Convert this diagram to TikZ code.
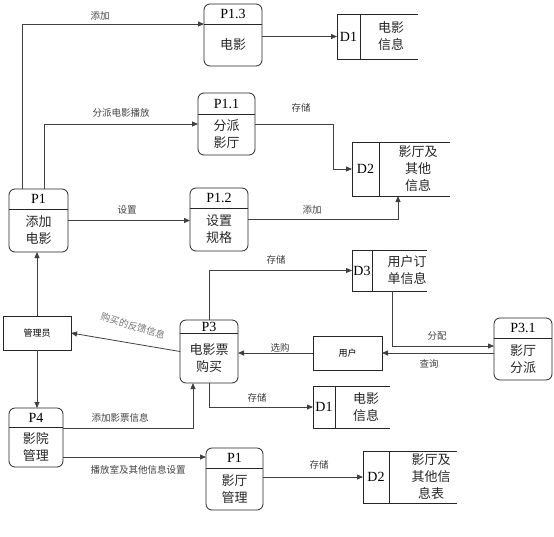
\documentclass[tikz,border=0pt]{standalone}
\usepackage{fontspec}
\setmainfont{Liberation Serif}
\newfontfamily\cjk{Noto Sans CJK SC}
\usetikzlibrary{arrows.meta,calc}
\tikzset{
  boxline/.style={draw=black!85, line width=0.8pt},
  box/.style={boxline, rounded corners=6pt, inner sep=0pt, outer sep=0pt, anchor=north west},
  ent/.style={boxline, inner sep=0pt, outer sep=0pt, anchor=north west, font=\cjk\fontsize{9}{10}\selectfont},
  flow/.style={draw=black!75, line width=0.8pt, -{Triangle[length=6pt,width=5pt]}},
  lbl/.style={font=\cjk\fontsize{9.5}{10}\selectfont, text=black!75, inner sep=1pt},
  pid/.style={font=\fontsize{14}{16}\selectfont, inner sep=0pt},
  ptxt/.style={font=\cjk\fontsize{13}{17}\selectfont, align=center, inner sep=0pt, text=black!85},
}
\newcommand\procbox[8]{%
  \pgfmathsetmacro\pbw{#4-#2}\pgfmathsetmacro\pbh{#5-#3}%
  \pgfmathsetmacro\pbcx{(#2+#4)/2}%
  \pgfmathsetmacro\pbiy{(#3+#6)/2}\pgfmathsetmacro\pbty{(#6+#5)/2}%
  \node[box, minimum width=\pbw pt, minimum height=\pbh pt] (#1) at (#2,#3) {};
  \draw[boxline] (#2,#6) -- (#4,#6);
  \node[pid] at (\pbcx,\pbiy) {#7};
  \node[ptxt] at (\pbcx,\pbty) {#8};
}
\newcommand\storebox[9]{%
  \pgfmathsetmacro\sbw{#4-#2}\pgfmathsetmacro\sbh{#5-#3}%
  \pgfmathsetmacro\sbcy{(#3+#5)/2}\pgfmathsetmacro\sbix{(#2+#6)/2}%
  \node[inner sep=0pt, outer sep=0pt, minimum width=\sbw pt, minimum height=\sbh pt, anchor=north west] (#1) at (#2,#3) {};
  \draw[boxline] (#1.north east) -- (#1.north west) -- (#1.south west) -- (#1.south east);
  \draw[boxline] (#6,#3) -- (#6,#5);
  \node[pid] at (\sbix,\sbcy) {#7};
  \node[ptxt] at (#9,\sbcy) {#8};
}
\begin{document}
\begin{tikzpicture}[x=1pt,y=-1pt]
\useasboundingbox (0,0) rectangle (554,536);
% processes
\procbox{p13}{204}{4}{262}{66}{24}{P1.3}{电影}
\procbox{p11}{198}{93}{255}{155}{114}{P1.1}{分派\\影厅}
\procbox{p1}{9}{189}{68}{252}{209}{P1}{添加\\电影}
\procbox{p12}{190}{188}{248}{251}{208}{P1.2}{设置\\规格}
\procbox{p3}{180}{320}{238}{383}{333}{P3}{电影票\\购买}
\procbox{p31}{494}{318}{552}{380}{338}{P3.1}{影厅\\分派}
\procbox{p4}{9}{408}{63}{467}{427}{P4}{影院\\管理}
\procbox{p1b}{206}{448}{263}{510}{468}{P1}{影厅\\管理}
% stores
\storebox{d1}{337}{14}{418}{59}{360}{D1}{电影\\信息}{391}
\storebox{d2}{352}{142}{450}{196}{379}{D2}{影厅及\\其他\\信息}{418}
\storebox{d3}{352}{250}{427}{291}{372}{D3}{用户订\\单信息}{407}
\storebox{d1b}{313}{386}{390}{428}{335}{D1}{电影\\信息}{366}
\storebox{d2b}{363}{451}{457}{503}{389}{D2}{影厅及\\其他信\\息表}{431}
% entities
\node[ent, minimum width=68pt, minimum height=34pt] (adm) at (3,316) {管理员};
\node[ent, minimum width=69pt, minimum height=34pt] (user) at (313,336) {用户};
% flows
\draw[flow] (p1.north -| 22,0) |- (p13.west |- 0,24);
\draw[flow] (p1.north -| 44,0) |- (p11.west);
\draw[flow] (p1.east) -- (p12.west |- p1.east);
\draw[flow] (p13.east |- d1.west) -- (d1.west);
\draw[flow] (p11.east) -| (333,0 |- d2.west) -- (d2.west);
\draw[flow] (p12.east) -| (d2.south -| 398,0);
\draw[flow] (adm.north) -- (adm.north |- p1.south);
\draw[flow] (p3.west) -- (adm.east);
\draw[flow] (adm.south) -- (adm.south |- p4.north);
\draw[flow] (p3.north) |- (d3.west);
\draw[flow] (d3.south -| 392,0) |- (p31.west |- 0,346);
\draw[flow] (p31.west |- user.east) -- (user.east);
\draw[flow] (user.west) -- (p3.east |- user.west);
\draw[flow] (p3.south) |- (d1b.west);
\draw[flow] (p4.east |- 0,428) -| (p3.south -| 193,0);
\draw[flow] (p4.east |- 0,457) -- (p1b.west |- 0,457);
\draw[flow] (p1b.east |- d2b.west) -- (d2b.west);
% labels
\node[lbl] at (100,16) {添加};
\node[lbl] at (121,113) {分派电影播放};
\node[lbl] at (127,210) {设置};
\node[lbl] at (301,108) {存储};
\node[lbl] at (312,210) {添加};
\node[lbl] at (276,260) {存储};
\node[lbl] at (437,336) {分配};
\node[lbl] at (429,364) {查询};
\node[lbl] at (280,348) {选购};
\node[lbl, text=black!55, rotate=-17, font=\cjk\fontsize{9.5}{10}\selectfont] at (133,326) {购买的反馈信息};
\node[lbl] at (257,398) {存储};
\node[lbl] at (120,418) {添加影票信息};
\node[lbl] at (138,470) {播放室及其他信息设置};
\node[lbl] at (319,465) {存储};
\end{tikzpicture}
\end{document}
